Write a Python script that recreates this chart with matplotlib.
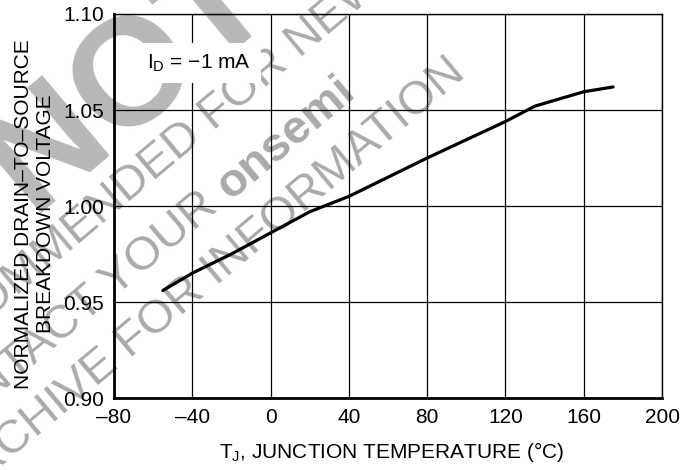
import matplotlib
matplotlib.use("Agg")
import matplotlib.pyplot as plt

plt.rcParams['font.family'] = ['Liberation Sans', 'DejaVu Sans']
plt.rcParams['mathtext.fontset'] = 'custom'
plt.rcParams['mathtext.rm'] = 'Liberation Sans'
plt.rcParams['mathtext.it'] = 'Liberation Sans'

# curve
temp_c = [-55, -40, -20, 0, 20, 40, 80, 120, 135, 145, 160, 175]
bvdss_norm = [0.956, 0.965, 0.975, 0.986, 0.997, 1.005, 1.025, 1.044, 1.052, 1.055, 1.0595, 1.062]

x_ticks = [-80, -40, 0, 40, 80, 120, 160, 200]
y_ticks = [0.90, 0.95, 1.00, 1.05, 1.10]
y_ticklabels = ["0.90", "0.95", "1.00", "1.05", "1.10"]

FS = 15

fig = plt.figure(figsize=(6.84, 4.70), dpi=100)
ax = fig.add_axes([114/684, 1 - 398/470, 548/684, 384/470])
ax.set_facecolor('none')

# watermark, behind the axes
wm = '#aaaaaa'
kw = dict(rotation=40, va='center', rotation_mode='anchor', zorder=-4)
fig.text(130/684, 1 - 80/470, "NOT", fontsize=110, fontweight='bold', color='#b8b8b8',
         ha='center', **kw)
fig.text(172/684, 1 - 150/470, "NOT RECOMMENDED FOR NEW DESIGN", fontsize=34, color=wm,
         ha='center', **kw)
fig.text(222/684, 1 - 192/470, "CONTACT YOUR ", fontsize=34, color=wm, ha='right', **kw)
fig.text(222/684, 1 - 192/470, "onsemi", fontsize=34, fontweight='bold', color=wm,
         ha='left', **kw)
fig.text(205/684, 1 - 280/470, "ARCHIVE FOR INFORMATION", fontsize=34, color=wm,
         ha='center', **kw)

ax.plot(temp_c, bvdss_norm, color='black', lw=2.3, solid_capstyle='round', zorder=3)

ax.set_xlim(-80, 200)
ax.set_ylim(0.90, 1.10)
ax.set_xticks(x_ticks)
ax.set_xticklabels([str(t).replace('-', '\u2013') for t in x_ticks])
ax.set_yticks(y_ticks)
ax.set_yticklabels(y_ticklabels)
ax.tick_params(length=0, labelsize=FS, pad=7, colors='black')
ax.grid(True, color='black', lw=0.9)
ax.set_axisbelow(False)

for side in ['top', 'right']:
    ax.spines[side].set_linewidth(1.0)
for side in ['left', 'bottom']:
    ax.spines[side].set_linewidth(2.0)

ax.text(-63, 1.0745, 'I$_\\mathrm{D}$ = \u22121 mA',
        fontsize=FS, ha='left', va='center', zorder=4,
        bbox=dict(facecolor='white', edgecolor='none', pad=7))

fig.text(35/684, 0.545, "NORMALIZED DRAIN\u2013TO\u2013SOURCE\nBREAKDOWN VOLTAGE",
         rotation=90, ha='center', va='center', fontsize=FS, linespacing=1.2)
fig.text(392/684, 12/470, 'T$_\\mathrm{J}$, JUNCTION TEMPERATURE (°C)',
         ha='center', va='baseline', fontsize=FS)

fig.savefig("out.png", dpi=100)
